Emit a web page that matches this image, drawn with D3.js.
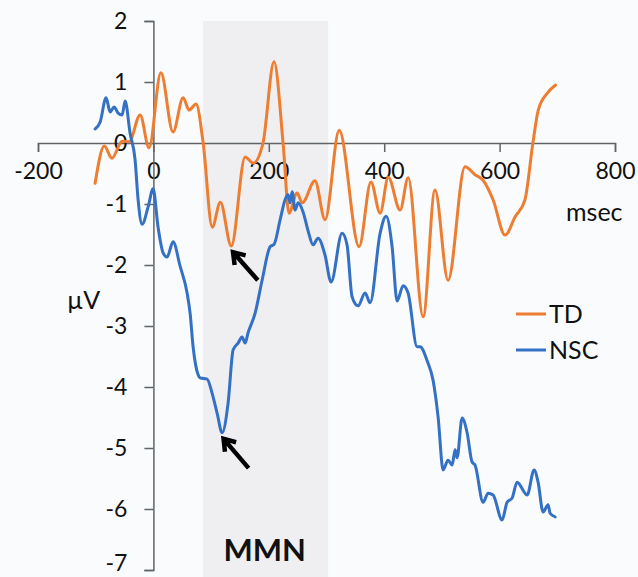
<!DOCTYPE html>
<html>
<head>
<meta charset="utf-8">
<script src="https://cdn.jsdelivr.net/npm/d3@7"></script>
<style>
  body { margin: 0; background: #fafbfd; }
  text { font-family: Lato, "Open Sans", sans-serif; fill: #111; }
</style>
</head>
<body>
<script>
// values (time in msec, amplitude in microvolts)
const tdTime = [-101,-85,-72,-54,-42,-23,-7.5,13,34,51.5,62,74,86,102,116,135,159,173,190,209,225,235,249,258,280,297.5,322,356.5,377,393,407,427.6,441.5,467.5,488,510.7,540,557.5,571.4,588.7,609.5,627,644,658,667,683,697];
const tdValue = [-0.66,-0.05,-0.25,0.03,0.02,0.46,-0.08,1.15,0.18,0.74,0.54,0.64,0.02,-1.38,-0.97,-1.69,-0.23,-0.33,0,1.33,-0.03,-1.15,-0.82,-0.98,-0.62,-1.26,0.21,-1.7,-0.64,-1.15,-0.56,-1.1,-0.57,-2.85,-0.77,-2.25,-0.39,-0.52,-0.61,-0.93,-1.51,-1.21,-0.93,0.02,0.54,0.82,0.95];

const nscTime = [-101,-92.4,-82,-75,-68.1,-61.2,-54.2,-49,-40.4,-31.7,-26.5,-19.6,-9.2,-0.5,8.1,16.8,23.7,34.1,46.3,58.4,63.6,68.8,77.5,80.9,93.1,101.7,110.4,119.1,129.5,138.2,146.8,153.7,158.9,164.1,176.3,188.4,202.3,209.2,219.6,228.2,233.4,236.9,240.4,245.6,250.8,259.4,268.1,276.8,285.4,297.5,307.9,327,335.6,344.3,354.7,366.9,375.6,392.9,403.3,413.7,422.4,432.8,441.4,457,462.2,474.4,484.7,493.4,502.1,510.7,517.7,522.9,526.3,535,543.7,552.3,557.5,571.4,580.1,588.7,604.3,613,621.7,630.3,647.7,659.8,666.7,675.4,684.1,687.5,696.2];
const nscValue = [0.23,0.34,0.74,0.51,0.59,0.49,0.46,0.69,0.16,-0.28,-0.93,-1.33,-1.05,-0.75,-1.38,-1.8,-1.87,-1.62,-2.02,-2.46,-2.79,-3.34,-3.8,-3.85,-3.87,-4.1,-4.43,-4.75,-4.26,-3.39,-3.28,-3.18,-3.28,-3.11,-2.79,-2.25,-1.7,-1.66,-1.26,-0.93,-0.85,-0.98,-0.8,-1.1,-0.98,-1.13,-1.44,-1.67,-1.56,-1.84,-2.28,-1.48,-1.67,-2.52,-2.67,-2.46,-2.62,-1.48,-1.2,-1.7,-2.59,-2.34,-2.46,-3.34,-3.34,-3.57,-3.89,-4.49,-5.36,-5.2,-5.28,-5.03,-5.16,-4.51,-4.75,-5.23,-5.28,-5.89,-5.74,-5.77,-6.18,-5.89,-5.82,-5.56,-5.77,-5.36,-5.56,-6.05,-5.93,-6.07,-6.13];

const xTicks = [-200, 0, 200, 400, 600, 800];
const yTicks = [2, 1, 0, -1, -2, -3, -4, -5, -6, -7];
const mmnWindow = [86, 303];
const series = ["TD", "NSC"];
const colors = ["#ed7d31", "#3470c4"];
// arrows: [tip time, tip value, tail time, tail value]
const arrows = [[138, -1.79, 181, -2.25], [121.6, -4.85, 165, -5.33]];

const width = 638, height = 577;

const svg = d3.select("body").append("svg")
  .attr("width", width)
  .attr("height", height);

const x = d3.scaleLinear().domain([-200, 800]).range([38, 615]);
const y = d3.scaleLinear().domain([-7, 2]).range([570, 21]);

// shaded MMN window
svg.append("rect")
  .attr("x", x(mmnWindow[0]))
  .attr("y", y(2))
  .attr("width", x(mmnWindow[1]) - x(mmnWindow[0]))
  .attr("height", height - y(2))
  .attr("fill", "#efeff1");

// plain hyphen for negatives, as in the original
const fmt = d => String(d);

// x axis along zero
const xAxis = svg.append("g")
  .attr("transform", `translate(0,${y(0)})`)
  .call(d3.axisBottom(x).tickValues(xTicks).tickFormat(fmt).tickSize(9).tickPadding(11));
xAxis.select(".domain").attr("stroke", "#5f6468").attr("stroke-width", 1.5);
xAxis.selectAll(".tick line").attr("stroke", "#5f6468").attr("stroke-width", 1.5);
xAxis.selectAll(".tick text").attr("font-size", 23).attr("fill", "#111")
  .attr("font-family", "Lato, sans-serif");

// y axis at time zero
const yAxis = svg.append("g")
  .attr("transform", `translate(${x(0)},0)`)
  .call(d3.axisLeft(y).tickValues(yTicks).tickFormat(fmt).tickSize(9).tickPadding(17));
yAxis.select(".domain").attr("stroke", "#5f6468").attr("stroke-width", 1.5);
yAxis.selectAll(".tick line").attr("stroke", "#5f6468").attr("stroke-width", 1.5);
yAxis.selectAll(".tick text").attr("font-size", 23).attr("fill", "#111")
  .attr("font-family", "Lato, sans-serif");
// lowest label sits on the bottom edge; keep it inside the frame
yAxis.selectAll(".tick text").filter(d => d === -7).attr("dy", "0em");

svg.append("text").attr("x", 566).attr("y", 221).attr("font-size", 25).text("msec");
svg.append("text").attr("x", 67).attr("y", 309).attr("font-size", 25).text("µV");
svg.append("text").attr("x", x(193)).attr("y", 561)
  .attr("text-anchor", "middle").attr("font-size", 31).attr("font-weight", "bold")
  .text("MMN");

const line = d3.line()
  .curve(d3.curveMonotoneX)
  .x(d => x(d[0]))
  .y(d => y(d[1]));

const tdData = tdTime.map((t, i) => [t, tdValue[i]]);
const nscData = nscTime.map((t, i) => [t, nscValue[i]]);

[tdData, nscData].forEach((data, i) => {
  svg.append("path")
    .datum(data)
    .attr("fill", "none")
    .attr("stroke", colors[i])
    .attr("stroke-width", 3)
    .attr("stroke-linejoin", "round")
    .attr("stroke-linecap", "round")
    .attr("d", line);
});

// arrows
arrows.forEach(a => {
  const tx = x(a[0]), ty = y(a[1]), sx = x(a[2]), sy = y(a[3]);
  const ang = Math.atan2(ty - sy, tx - sx);
  const len = 13, spread = 0.6;
  const b1 = [tx - len * Math.cos(ang - spread), ty - len * Math.sin(ang - spread)];
  const b2 = [tx - len * Math.cos(ang + spread), ty - len * Math.sin(ang + spread)];
  svg.append("path")
    .attr("d", `M${sx},${sy}L${tx},${ty}M${b1[0]},${b1[1]}L${tx},${ty}L${b2[0]},${b2[1]}`)
    .attr("fill", "none")
    .attr("stroke", "#000")
    .attr("stroke-width", 4.5)
    .attr("stroke-linecap", "butt")
    .attr("stroke-linejoin", "miter");
});

// legend
const legend = svg.append("g");
series.forEach((s, i) => {
  const ly = 314 + i * 36;
  legend.append("line")
    .attr("x1", 516).attr("x2", 546)
    .attr("y1", ly).attr("y2", ly)
    .attr("stroke", colors[i]).attr("stroke-width", 3);
  legend.append("text")
    .attr("x", 549).attr("y", ly + 9)
    .attr("font-size", 25)
    .text(s);
});
</script>
</body>
</html>
